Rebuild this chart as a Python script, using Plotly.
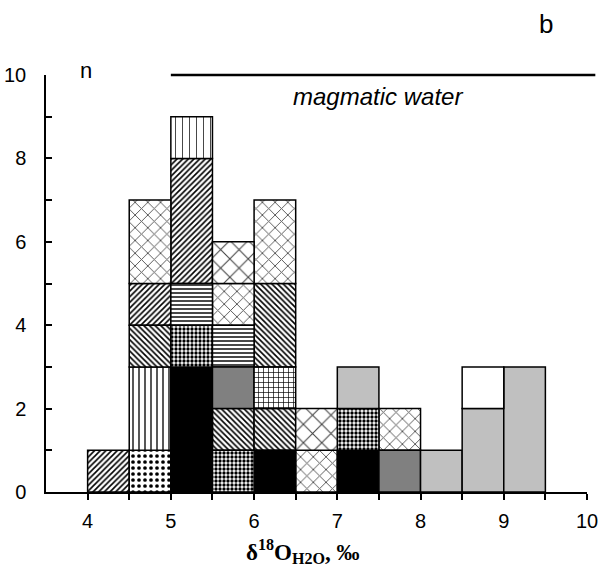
import plotly.graph_objects as go

# ---------------- data ----------------
bin_left = [4.0, 4.5, 5.0, 5.5, 6.0, 6.5, 7.0, 7.5, 8.0, 8.5, 9.0]
bin_width = 0.5

# segments of each stacked bin, listed bottom -> top
seg_bin = [4.0,
           4.5, 4.5, 4.5, 4.5, 4.5,
           5.0, 5.0, 5.0, 5.0, 5.0,
           5.5, 5.5, 5.5, 5.5, 5.5, 5.5,
           6.0, 6.0, 6.0, 6.0, 6.0,
           6.5, 6.5,
           7.0, 7.0, 7.0,
           7.5, 7.5,
           8.0,
           8.5, 8.5,
           9.0]
seg_fill = ["fwd",
            "dots", "vlines", "back", "fwd", "cross",
            "black", "checker", "hlines", "fwd", "dashes",
            "checker", "back", "dgray", "hlines", "cross", "bricks",
            "black", "back", "grid", "back", "cross",
            "cross", "bricks",
            "black", "checker", "lgray",
            "dgray", "cross",
            "lgray",
            "lgray", "white",
            "lgray"]
seg_count = [1,
             1, 2, 1, 1, 2,
             3, 1, 1, 3, 1,
             1, 1, 1, 1, 1, 1,
             1, 1, 1, 2, 2,
             1, 1,
             1, 1, 1,
             1, 1,
             1,
             2, 1,
             3]

x_ticks = [4, 4.5, 5, 5.5, 6, 6.5, 7, 7.5, 8, 8.5, 9, 9.5, 10]
y_ticks = [0, 1, 2, 3, 4, 5, 6, 7, 8, 9, 10]
x_range = [3.5, 10]
y_range = [0, 10]
magmatic_range = [5.0, 10.1]
magmatic_level = 10

# ---------------- styles ----------------
FILL_STYLES = {
    "fwd":     dict(color="white", pattern=dict(shape="/", fgcolor="black", size=4, solidity=0.4)),
    "back":    dict(color="white", pattern=dict(shape="\\", fgcolor="black", size=4, solidity=0.4)),
    "cross":   dict(color="white", pattern=dict(shape="x", fgcolor="#555555", size=9, solidity=0.2)),
    "bricks":  dict(color="white", pattern=dict(shape="x", fgcolor="#444444", size=13, solidity=0.16)),
    "dots":    dict(color="white", pattern=dict(shape=".", fgcolor="black", size=6, solidity=0.3)),
    "vlines":  dict(color="white", pattern=dict(shape="|", fgcolor="black", size=6, solidity=0.22)),
    "hlines":  dict(color="white", pattern=dict(shape="-", fgcolor="#333333", size=4, solidity=0.45)),
    "checker": dict(color="white", pattern=dict(shape=".", fgcolor="black", size=4, solidity=0.55)),
    "grid":    dict(color="white", pattern=dict(shape="+", fgcolor="black", size=5, solidity=0.25)),
    "dashes":  dict(color="white", pattern=dict(shape="|", fgcolor="#444444", size=7, solidity=0.14)),
    "black":   dict(color="#000000"),
    "dgray":   dict(color="#808080"),
    "lgray":   dict(color="#c0c0c0"),
    "white":   dict(color="#ffffff"),
}

# compute stacking bases from the counts
running = {b: 0 for b in bin_left}
seg_base = []
for b, c in zip(seg_bin, seg_count):
    seg_base.append(running[b])
    running[b] += c

fig = go.Figure()
order = []
for f in seg_fill:
    if f not in order:
        order.append(f)
for f in order:
    idx = [i for i, s in enumerate(seg_fill) if s == f]
    st = FILL_STYLES[f]
    marker = dict(color=st["color"], line=dict(color="black", width=1.5))
    if "pattern" in st:
        marker["pattern"] = dict(fillmode="replace", bgcolor="white", **st["pattern"])
    fig.add_trace(go.Bar(
        x=[seg_bin[i] + bin_width / 2 for i in idx],
        y=[seg_count[i] for i in idx],
        base=[seg_base[i] for i in idx],
        width=bin_width,
        marker=marker,
        showlegend=False,
        hoverinfo="skip",
    ))

font_sans = "Liberation Sans, Arial, sans-serif"
ML, MR, MT, MB = 46, 15, 75, 76

fig.update_layout(
    width=602, height=568,
    margin=dict(l=ML, r=MR, t=MT, b=MB, autoexpand=False),
    paper_bgcolor="white", plot_bgcolor="white",
    barmode="overlay",
    font=dict(family=font_sans, color="black", size=20),
    xaxis=dict(
        range=x_range, tickvals=x_ticks,
        ticktext=[str(int(v)) if float(v).is_integer() else "" for v in x_ticks],
        ticks="outside", ticklen=6, tickwidth=1.5, tickcolor="black",
        showline=True, linecolor="black", linewidth=1.5,
        showgrid=False, zeroline=False, automargin=False,
        tickfont=dict(size=20, family=font_sans),
        ticklabelstandoff=4,
    ),
    yaxis=dict(
        range=y_range, tickvals=y_ticks,
        ticktext=[str(v) if v % 2 == 0 else "" for v in y_ticks],
        ticks="inside", ticklen=6, tickwidth=1.5, tickcolor="black",
        showline=True, linecolor="black", linewidth=1.5,
        showgrid=False, zeroline=False, automargin=False,
        tickfont=dict(size=20, family=font_sans),
        ticklabelstandoff=14,
    ),
)


def to_paper_x(v):
    return (v - x_range[0]) / (x_range[1] - x_range[0])


def to_paper_y(v):
    return (v - y_range[0]) / (y_range[1] - y_range[0])


# magmatic water line (paper refs so it is not clipped at the axis end)
fig.add_shape(type="line", xref="paper", yref="paper",
              x0=to_paper_x(magmatic_range[0]), x1=to_paper_x(magmatic_range[1]),
              y0=to_paper_y(magmatic_level), y1=to_paper_y(magmatic_level),
              line=dict(color="black", width=2.5))

pw = 602 - ML - MR
ph = 568 - MT - MB


def px(x, y):
    return (x - ML) / pw, (568 - MB - y) / ph


def text_at(x, y, text, size, family=font_sans):
    xp, yp = px(x, y)
    fig.add_annotation(x=xp, y=yp, xref="paper", yref="paper", text=text,
                       showarrow=False, xanchor="center", yanchor="middle",
                       font=dict(size=size, family=family, color="black"))


text_at(378, 96, "<i>magmatic water</i>", 24)
text_at(86, 70, "n", 22)
text_at(546, 24, "b", 26)
text_at(303, 551, "<b>δ<sup>18</sup>O<sub>H2O</sub>, ‰</b>", 23,
        family="Liberation Serif, Times New Roman, serif")

fig.write_html("out.html")
